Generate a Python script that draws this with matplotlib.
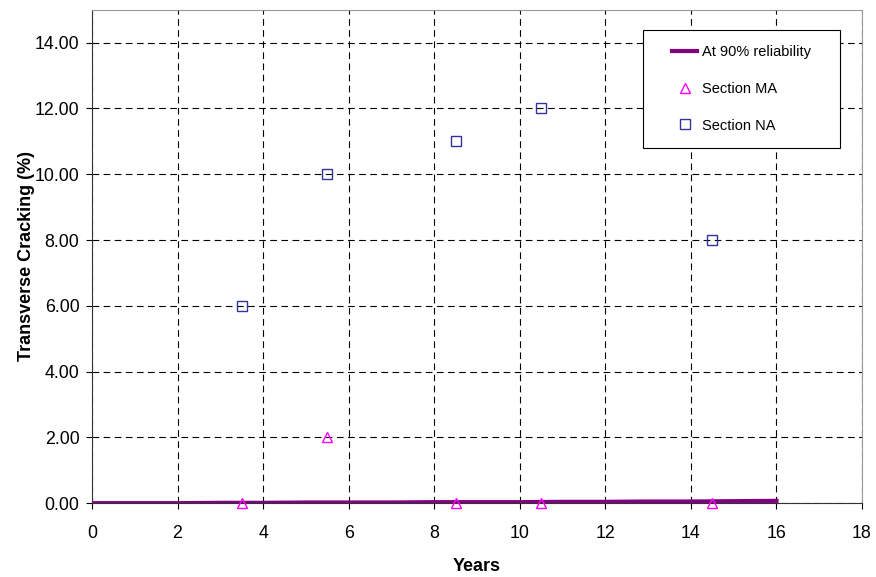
import numpy as np
from matplotlib import pyplot as plt
from matplotlib.patches import Rectangle

plt.rcParams['font.family'] = ['Liberation Sans', 'DejaVu Sans']

years_line = [0, 1, 2, 3, 4, 5, 6, 7, 8, 9, 10, 11, 12, 13, 14, 15, 16]
reliability_90 = [0.0, 0.0, 0.0, 0.01, 0.01, 0.02, 0.02, 0.02, 0.03, 0.03, 0.03, 0.04, 0.04, 0.05, 0.05, 0.06, 0.07]

years_sections = [3.5, 5.5, 8.5, 10.5, 14.5]
section_ma = [0.0, 2.0, 0.0, 0.0, 0.0]
section_na = [6.0, 10.0, 11.0, 12.0, 8.0]

fig = plt.figure(figsize=(8.76, 5.77), dpi=100)
ax = fig.add_axes([0.105, 0.128, 0.879, 0.855])

ax.plot(years_line, reliability_90, color='#800080', lw=3, label='At 90% reliability', zorder=3)
ax.plot(years_sections, section_ma, ls='none', marker='^', ms=7.5, mfc='none', mec='#ff00ff',
        mew=1, label='Section MA', zorder=4, clip_on=False)
ax.plot(years_sections, section_na, ls='none', marker='s', ms=7.5, mfc='none', mec='#333399',
        mew=1, label='Section NA', zorder=4, clip_on=False)

ax.set_xlim(0, 18)
ax.set_ylim(0, 15)
ax.set_xticks(np.arange(0, 19, 2))
ax.set_yticks(np.arange(0, 15, 2))
ax.set_yticklabels(['{:.2f}'.format(v) for v in np.arange(0, 15, 2)])
ax.tick_params(labelsize=12.8, direction='out', length=4)
ax.tick_params(axis='y', pad=5)
ax.tick_params(axis='x', pad=12)
ax.grid(True, color='black', ls=(0, (6, 4)), lw=0.8)

for side in ['top', 'right']:
    ax.spines[side].set_color('#999999')
for side in ['left', 'bottom']:
    ax.spines[side].set_color('#333333')

ax.set_xlabel('Years', fontsize=13, fontweight='bold', labelpad=11)
ax.set_ylabel('Transverse Cracking (%)', fontsize=13, fontweight='bold', labelpad=0)

# legend box
box = Rectangle((0.716, 0.72), 0.255, 0.239, transform=ax.transAxes, facecolor='white',
                edgecolor='black', lw=0.8, zorder=5)
ax.add_patch(box)
leg = ax.legend(loc='center', bbox_to_anchor=(0.8435, 0.8395), fontsize=10.5, frameon=False,
                labelspacing=1.55, handlelength=1.7, handletextpad=0.3)
leg.set_zorder(6)

fig.savefig('out.png')
